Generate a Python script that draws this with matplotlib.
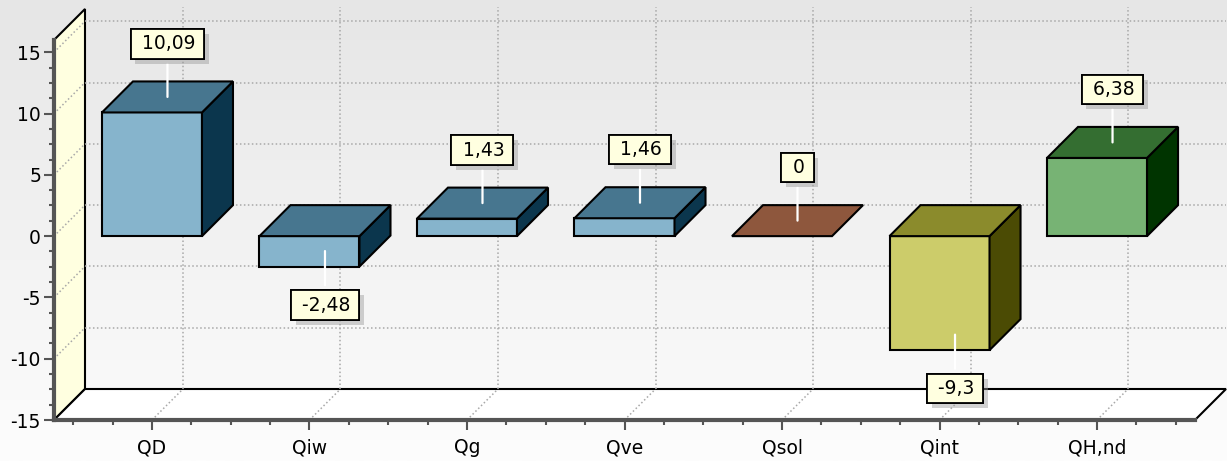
import numpy as np
import matplotlib
matplotlib.use("Agg")
import matplotlib.pyplot as plt
from matplotlib.patches import Polygon
from matplotlib.colors import LinearSegmentedColormap
from matplotlib.ticker import MultipleLocator
from matplotlib import patheffects

categories = ["QD", "Qiw", "Qg", "Qve", "Qsol", "Qint", "QH,nd"]
values = [10.09, -2.48, 1.43, 1.46, 0, -9.3, 6.38]
front_colors = ["#86b4cc", "#86b4cc", "#86b4cc", "#86b4cc", "#8e573d", "#cccc6a", "#77b374"]
top_colors = ["#47768f", "#47768f", "#47768f", "#47768f", "#8e573d", "#8b8b2c", "#346e31"]
side_colors = ["#0b364d", "#0b364d", "#0b364d", "#0b364d", "#5a3020", "#4b4b04", "#003400"]

plt.rcParams["axes.unicode_minus"] = False
plt.rcParams["font.size"] = 13.5

W, H, DPI = 1227, 461, 100
fig = plt.figure(figsize=(W / DPI, H / DPI), dpi=DPI)

# background gradient
bg = fig.add_axes([0, 0, 1, 1], zorder=-10)
grad = np.linspace(0, 1, 256).reshape(-1, 1)
cmap = LinearSegmentedColormap.from_list("g", ["#e6e6e6", "#fdfdfd"])
bg.imshow(grad, aspect="auto", cmap=cmap, extent=[0, 1, 0, 1])
bg.axis("off")

# front plane in pixels
left, bottom, right, top = 54, 41, 1195, 421
ax = fig.add_axes([left / W, bottom / H, (right - left) / W, (top - bottom) / H])
x0, x1 = -0.622, 6.622
y0, y1 = -15, 16
ax.set_xlim(x0, x1)
ax.set_ylim(y0, y1)
ax.patch.set_visible(False)

depth = 31
dx = depth * (x1 - x0) / (right - left)
dy = depth * (y1 - y0) / (top - bottom)
bw = 0.635

grid_kw = dict(color="#a8a8a8", lw=1.1, ls=(0, (1, 1.6)), clip_on=False, zorder=0.5)

# left wall
wall = Polygon([(x0, y0), (x0, y1), (x0 + dx, y1 + dy), (x0 + dx, y0 + dy)],
               closed=True, facecolor="#ffffe0", edgecolor="black", lw=1.5,
               clip_on=False, zorder=0.4)
ax.add_patch(wall)

# floor
floor = Polygon([(x0, y0), (x1, y0), (x1 + dx, y0 + dy), (x0 + dx, y0 + dy)],
                closed=True, facecolor="white", edgecolor="black", lw=1.5,
                clip_on=False, zorder=0.4)
ax.add_patch(floor)

# grid lines
for yv in range(-10, 16, 5):
    ax.plot([x0 + dx, x1 + dx], [yv + dy, yv + dy], **grid_kw)
    ax.plot([x0, x0 + dx], [yv, yv + dy], **grid_kw)
for i in range(len(categories)):
    ax.plot([i + dx, i + dx], [y0 + dy, y1 + dy + 0.2], **grid_kw)
    ax.plot([i, i + dx], [y0, y0 + dy], **grid_kw)

# bars
for i, v in enumerate(values):
    lo, hi = min(v, 0), max(v, 0)
    xl, xr = i - bw / 2, i + bw / 2
    if hi > lo:
        ax.add_patch(Polygon([(xl, lo), (xr, lo), (xr, hi), (xl, hi)],
                             facecolor=front_colors[i], edgecolor="black", lw=1.5,
                             clip_on=False, zorder=3))
        ax.add_patch(Polygon([(xr, lo), (xr, hi), (xr + dx, hi + dy), (xr + dx, lo + dy)],
                             facecolor=side_colors[i], edgecolor="black", lw=1.5,
                             clip_on=False, zorder=3))
    ax.add_patch(Polygon([(xl, hi), (xr, hi), (xr + dx, hi + dy), (xl + dx, hi + dy)],
                         facecolor=top_colors[i], edgecolor="black", lw=1.5,
                         clip_on=False, zorder=3))

    txt = " " + f"{v:g}".replace(".", ",") + "\u2009"
    off = 53 if v >= 0 else -54
    ann = ax.annotate(txt, xy=(i + dx / 2, v + dy / 2), xytext=(0, off),
                      textcoords="offset pixels", ha="center", va="center",
                      fontsize=13.5, zorder=6, annotation_clip=False,
                      bbox=dict(boxstyle="square,pad=0.28", facecolor="#ffffe0",
                                edgecolor="black", lw=1.3),
                      arrowprops=dict(arrowstyle="-", color="white", lw=1.6,
                                      shrinkA=3.2, shrinkB=0))
    ann.get_bbox_patch().set_path_effects([
        patheffects.withSimplePatchShadow(offset=(3.5, -3.5), shadow_rgbFace="#9a9a9a", alpha=0.45),
        patheffects.Normal()])

# axes / ticks
for s in ["top", "right"]:
    ax.spines[s].set_visible(False)
for s in ["left", "bottom"]:
    ax.spines[s].set_linewidth(3)
    ax.spines[s].set_color("#555555")
    ax.spines[s].set_zorder(2.5)

ax.yaxis.set_major_locator(MultipleLocator(5))
ax.yaxis.set_minor_locator(MultipleLocator(1.25))
ax.set_yticks(range(-15, 16, 5))
ax.set_xticks(range(len(categories)))
ax.set_xticklabels(categories)
ax.set_xticks(np.arange(-0.5, 6.51, 0.25), minor=True)
ax.tick_params(which="major", length=7.2, width=1.5, color="#555555", labelsize=13.5)
ax.tick_params(which="minor", length=3.6, width=1.5, color="#555555")
ax.tick_params(axis="y", which="major", pad=2.2)
ax.tick_params(axis="x", which="major", pad=6.0)

fig.savefig("out.png", dpi=DPI)
